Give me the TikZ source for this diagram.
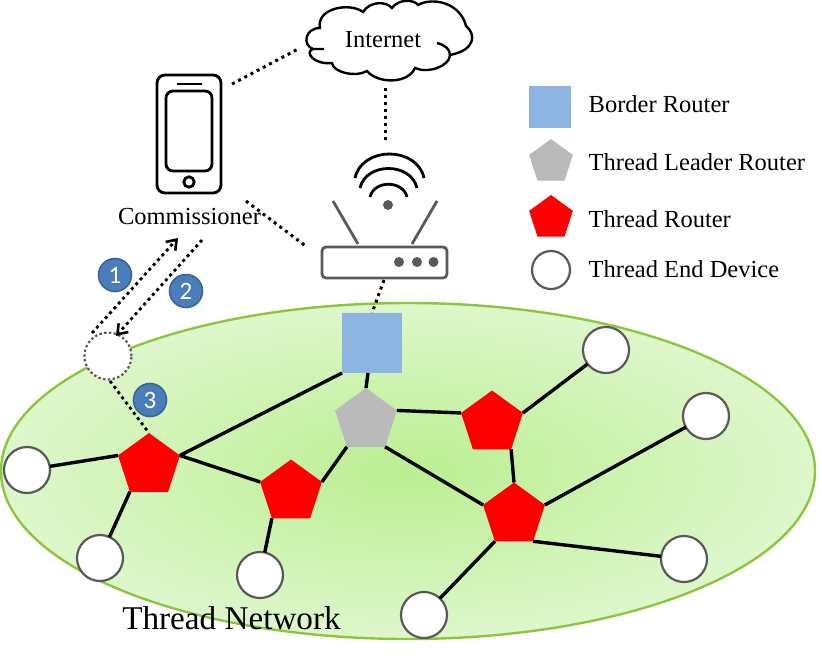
\documentclass[tikz,border=0pt]{standalone}
\usepackage{fontspec}
\setmainfont{Liberation Serif}
\newfontfamily\numfont{Carlito}
\usetikzlibrary{shapes.geometric,arrows.meta}
\definecolor{grayline}{HTML}{595959}
\definecolor{bluefill}{HTML}{8EB4E3}
\definecolor{numfill}{HTML}{4A7EBB}
\definecolor{numline}{HTML}{3A6496}
\definecolor{leafline}{HTML}{8CC63F}
\definecolor{areain}{HTML}{BBEF92}
\definecolor{areaout}{HTML}{EDFAE5}
\pgfdeclareradialshading{areashade}{\pgfpoint{0bp}{0bp}}{color(0bp)=(areain); color(36bp)=(areaout); color(100bp)=(areaout)}
\tikzset{
  x=1pt,y=-1pt,
  pent/.style={regular polygon,regular polygon sides=5,inner sep=0pt,outer sep=0pt,minimum size=#1,draw=none},
  routernode/.style={pent=65pt,fill=red},
  leadernode/.style={pent=65pt,fill=black!27},
  enddev/.style={circle,draw=grayline,line width=2.2pt,fill=white,minimum size=46pt,inner sep=0pt,outer sep=0pt},
  link/.style={line width=3.4pt,black},
  dotline/.style={line width=3pt,black,dash pattern=on 3pt off 4pt},
  thindot/.style={line width=2.8pt,black,dash pattern=on 3pt off 3.5pt},
  numbadge/.style={circle,fill=numfill,draw=numline,line width=1.6pt,minimum size=33pt,inner sep=0pt,text=white,font=\numfont\fontsize{25}{25}\selectfont},
  legendtext/.style={anchor=west,font=\fontsize{24.5}{28}\selectfont,inner sep=0pt},
  labeltext/.style={font=\fontsize{24.5}{28}\selectfont,inner sep=0pt},
  iconline/.style={line width=2.8pt,black},
  routerline/.style={line width=2.8pt,grayline},
}
\begin{document}
\begin{tikzpicture}
\useasboundingbox (0,0) rectangle (822,657);
% network area
\shade[shading=areashade] (408,471) ellipse [x radius=407,y radius=168];
\draw[leafline,line width=2.4pt] (408,471) ellipse [x radius=407,y radius=168];
% nodes
\node[rectangle,fill=bluefill,minimum size=60pt,inner sep=0pt,outer sep=0pt] (br) at (372,343) {};
\node[leadernode] (lead) at (366,420.5) {};
\node[routernode] (r1) at (149,465.5) {};
\node[routernode] (r2) at (291,492) {};
\node[routernode] (r3) at (492,423) {};
\node[routernode] (r4) at (514,515) {};
\node[enddev] (e1) at (27,470) {};
\node[enddev] (e2) at (100,558) {};
\node[enddev] (e3) at (260,575) {};
\node[enddev] (e4) at (424,615) {};
\node[enddev] (e5) at (684,559) {};
\node[enddev] (e6) at (706,416) {};
\node[enddev] (e7) at (606,350) {};
\node[circle,draw=grayline,line width=2.2pt,dash pattern=on 2.4pt off 2.4pt,fill=white,minimum size=47pt,inner sep=0pt,outer sep=0pt] (join) at (108,356) {};
% solid links
\draw[link] (e1) -- (r1.corner 2);
\draw[link] (e2) -- (r1.corner 3);
\draw[link] (r1.corner 5) -- (br.south west);
\draw[link] (r1.corner 5) -- (r2.corner 2);
\draw[link] (r2.corner 3) -- (e3);
\draw[link] (r2.corner 5) -- (lead.corner 3);
\draw[link] (br) -- (lead.corner 1);
\draw[link] (lead.corner 5) -- (r3.corner 2);
\draw[link] (lead.corner 4) -- (r4.corner 2);
\draw[link] (r3.corner 4) -- (r4.corner 1);
\draw[link] (r3.corner 5) -- (e7);
\draw[link] (r4.corner 5) -- (e6);
\draw[link] (r4.corner 4) -- (e5);
\draw[link] (r4.corner 3) -- (e4);
% phone
\draw[iconline,rounded corners=8pt] (157,75) rectangle (221,193);
\draw[iconline,rounded corners=7pt] (166,91) rectangle (212,171);
\draw[iconline] (177,84) -- (202,84);
\draw[iconline] (189,182) circle [radius=5.2];
\node[labeltext] (comm) at (189.5,217) {Commissioner};
% cloud
\draw[line width=2.4pt,black]
  (324,49) -- (313,49) .. controls (302,45) and (305,28) .. (320,28)
  .. controls (316,8) and (350,2) .. (363,12)
  .. controls (370,1) and (386,1) .. (392,8)
  .. controls (398,-1) and (414,-1) .. (418,5)
  .. controls (432,-3) and (460,2) .. (466,26)
  .. controls (476,34) and (476,50) .. (450,55)
  .. controls (450,66) and (428,74) .. (415,68)
  .. controls (408,84) and (378,84) .. (367,71)
  .. controls (355,78) and (333,72) .. (332,63)
  .. controls (314,65) and (304,52) .. (313,49);
\draw[line width=2.4pt,black] (437,43) .. controls (445,45) and (450,49) .. (450,55);
\node[labeltext] (inet) at (383,40) {Internet};
% wifi router
\draw[routerline,fill=white,rounded corners=4pt] (322,247) rectangle (447,278);
\draw[routerline] (333,201) -- (358,244);
\draw[routerline] (437,201) -- (412,244);
\fill[grayline] (399,262) circle [radius=5];
\fill[grayline] (417,262) circle [radius=5];
\fill[grayline] (433.5,262) circle [radius=5];
\fill[grayline] (388,205) circle [radius=5];
\draw[iconline] (370,197) .. controls (374,180) and (403,180) .. (407,197);
\draw[iconline] (360,188) .. controls (366,162) and (411,162) .. (417,188);
\draw[iconline] (355,178) .. controls (362,146) and (417,146) .. (424,178);
% dotted connectors
\coordinate (p1) at (232,84);
\coordinate (c1) at (300,48);
\coordinate (c2) at (385,88);
\coordinate (w1) at (385,143);
\coordinate (p2) at (246,201);
\coordinate (rt1) at (307,247);
\coordinate (rt2) at (384,280);
\coordinate (br1) at (372,313);
\coordinate (a1s) at (92,333);
\coordinate (a1e) at (178,238);
\coordinate (a2s) at (202,240);
\coordinate (a2e) at (116,336);
\coordinate (d3) at (110,381);
\draw[dotline] (p1) -- (c1);
\draw[dotline] (c2) -- (w1);
\draw[dotline] (p2) -- (rt1);
\draw[dotline] (rt2) -- (br1);
\draw[thindot,-{Straight Barb[length=9pt,width=13pt,line width=2.6pt]}] (a1s) -- (a1e);
\draw[thindot,-{Straight Barb[length=9pt,width=13pt,line width=2.6pt]}] (a2s) -- (a2e);
\draw[thindot] (d3) -- (r1.corner 1);
% badges
\node[numbadge] (n1) at (115,275) {1};
\node[numbadge] (n2) at (186,291) {2};
\node[numbadge] (n3) at (150,400) {3};
% legend
\node[rectangle,fill=bluefill,minimum size=42pt,inner sep=0pt] (l1) at (550,107) {};
\node[pent=46pt,fill=black!27] (l2) at (551,162) {};
\node[pent=46pt,fill=red] (l3) at (551,218) {};
\node[enddev,minimum size=38pt] (l4) at (551,270) {};
\node[legendtext] (t1) at (588.5,104) {Border Router};
\node[legendtext] (t2) at (588.5,162) {Thread Leader Router};
\node[legendtext] (t3) at (588.5,219) {Thread Router};
\node[legendtext] (t4) at (588.5,269) {Thread End Device};
\node[font=\fontsize{33.2}{38}\selectfont,inner sep=0pt] (tn) at (231.5,618) {Thread Network};
\end{tikzpicture}
\end{document}
